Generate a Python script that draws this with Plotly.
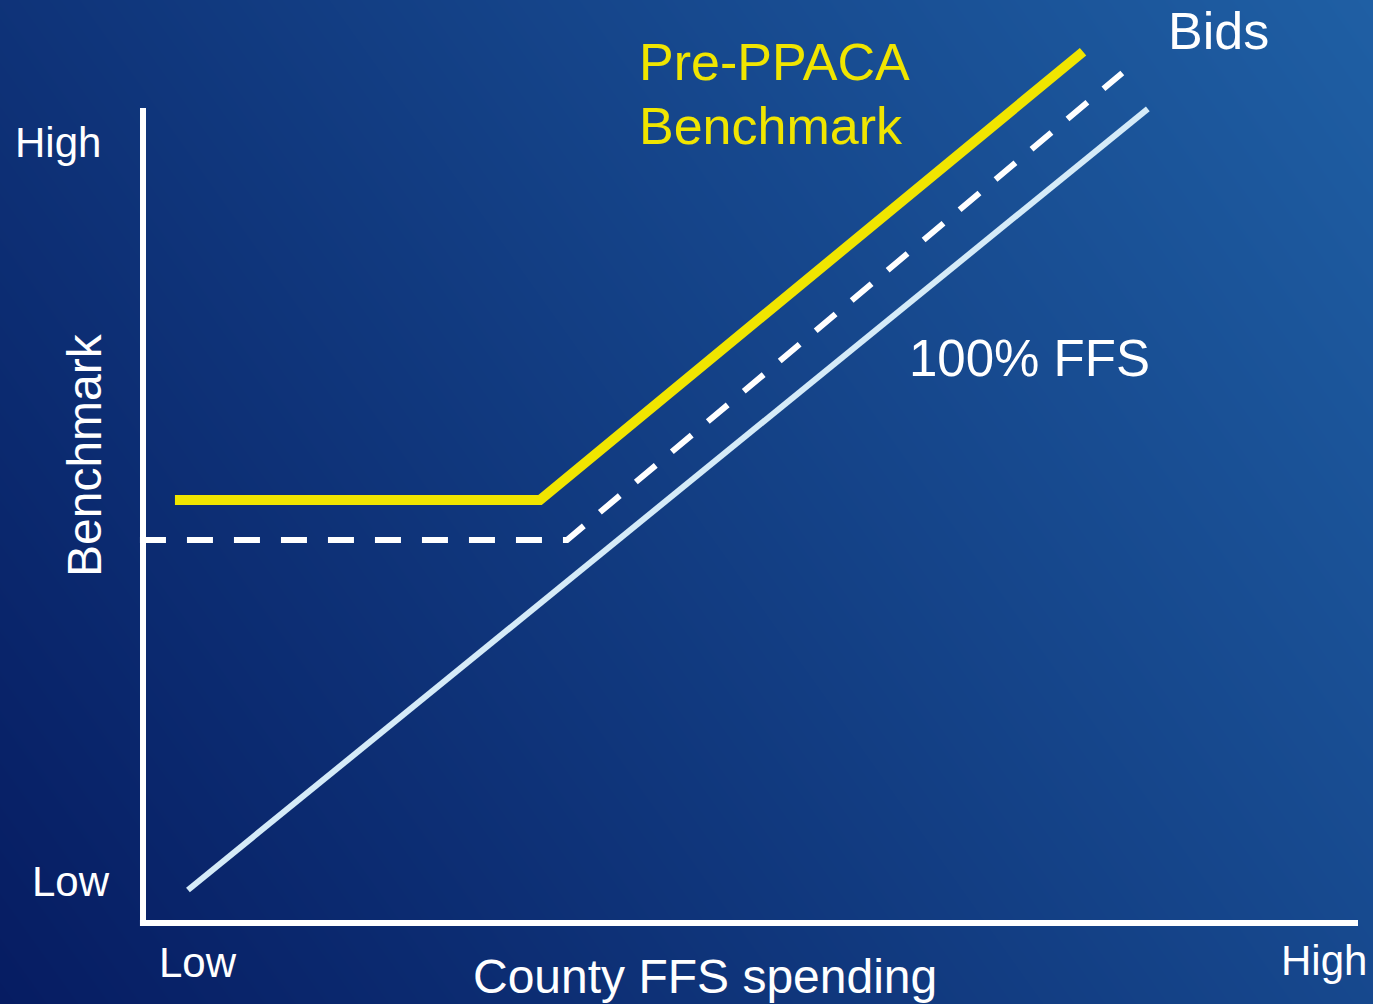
import plotly.graph_objects as go

W, H = 1373, 1004
# pixel geometry of the plot frame (axis origin / extents)
X0_PX, X1_PX = 143, 1358
Y0_PX, Y1_PX = 923, 108
sx = (X1_PX - X0_PX) / 100.0
sy = (Y0_PX - Y1_PX) / 100.0
x_range = [-X0_PX / sx, (W - X0_PX) / sx]
y_range = [-(H - Y0_PX) / sy, Y0_PX / sy]

# ---- data (abstract units: 0 = Low, 100 = High) ----
ffs_x = [3.7, 82.7]
ffs_y = [4.05, 99.9]

bids_x = [-0.25, 34.9, 80.6]
bids_y = [47.0, 47.0, 104.3]

prebench_x = [2.63, 32.67, 77.37]
prebench_y = [51.9, 51.9, 106.9]

x_tick_labels = ["Low", "High"]
y_tick_labels = ["Low", "High"]

FONT = "Liberation Sans, Arial, sans-serif"
WHITE = "#ffffff"
YELLOW = "#f0e500"
LIGHT = "#d5ebf8"

fig = go.Figure()

# background gradient (dark navy bottom-left -> lighter blue top-right)
fig.add_trace(go.Heatmap(
    x=x_range, y=y_range,
    z=[[0.0, 1.0], [0.52, 1.52]],
    zmin=0, zmax=1.52, zsmooth="best",
    colorscale=[[0, "#061c62"], [1, "#1f5fa4"]],
    showscale=False, hoverinfo="skip",
))

fig.add_trace(go.Scatter(x=ffs_x, y=ffs_y, mode="lines",
                         line=dict(color=LIGHT, width=6), hoverinfo="skip"))
fig.add_trace(go.Scatter(x=bids_x, y=bids_y, mode="lines",
                         line=dict(color=WHITE, width=6, dash="26px,21px"), hoverinfo="skip"))
fig.add_trace(go.Scatter(x=prebench_x, y=prebench_y, mode="lines",
                         line=dict(color=YELLOW, width=10), hoverinfo="skip"))

# axis lines
fig.add_shape(type="line", x0=-0.25, x1=100, y0=0, y1=0, xref="x", yref="y",
              line=dict(color=WHITE, width=6))
fig.add_shape(type="line", x0=0, x1=0, y0=-0.3, y1=100, xref="x", yref="y",
              line=dict(color=WHITE, width=6))


def px_ann(text, x, y, size, color=WHITE, xanchor="left", yanchor="middle", angle=0):
    fig.add_annotation(text=text, x=x / W, y=1 - y / H, xref="paper", yref="paper",
                       xanchor=xanchor, yanchor=yanchor, showarrow=False, textangle=angle,
                       font=dict(family=FONT, size=size, color=color))


# tick-like labels
px_ann(y_tick_labels[1], 13, 143, 42)
px_ann(y_tick_labels[0], 30, 881, 42)
px_ann(x_tick_labels[0], 157, 962, 42)
px_ann(x_tick_labels[1], 1279, 960, 42)

# axis titles
px_ann("County FFS spending", 471, 976, 48)
px_ann("Benchmark", 84, 455, 48, xanchor="center", angle=-90)

# series labels
px_ann("Pre-PPACA", 637, 62, 52, color=YELLOW)
px_ann("Benchmark", 637, 126, 52, color=YELLOW)
px_ann("Bids", 1166, 31, 52)
px_ann("100% FFS", 907, 358, 51)

fig.update_layout(
    width=W, height=H,
    margin=dict(l=0, r=0, t=0, b=0),
    showlegend=False,
    paper_bgcolor="#0b2a70",
    plot_bgcolor="#0b2a70",
    xaxis=dict(range=x_range, visible=False, fixedrange=True),
    yaxis=dict(range=y_range, visible=False, fixedrange=True),
)

fig.write_html("out.html", config={"displayModeBar": False},
               post_script="document.body.style.margin='0';document.body.style.overflow='hidden';")
